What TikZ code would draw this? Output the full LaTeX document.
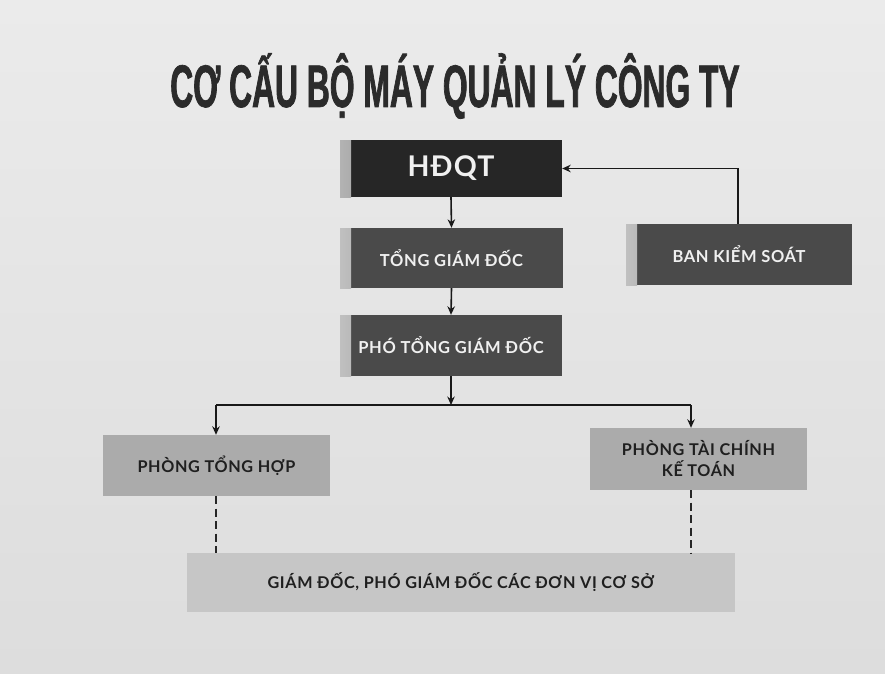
\documentclass[tikz,border=0pt]{standalone}
\usepackage{fontspec}
\setmainfont{Lato}
\newfontfamily\titlefont[FakeStretch=0.53, FakeBold=1.2]{Liberation Sans Bold}
\newfontfamily\boxfont[LetterSpace=4]{Lato Bold}
\usetikzlibrary{arrows.meta}
\definecolor{bgA}{HTML}{EBEBEB}
\definecolor{bgB}{HTML}{DDDDDD}
\definecolor{darkA}{HTML}{262626}
\definecolor{darkB}{HTML}{4A4A4A}
\definecolor{lightbox}{HTML}{ABABAB}
\definecolor{palebox}{HTML}{C6C6C6}
\definecolor{titlecol}{HTML}{2B2B2B}
\tikzset{
  boxbase/.style={rectangle, inner sep=0pt, align=center},
  strip/.style={path picture={\fill[left color=#1!35!white, right color=#1] (path picture bounding box.south west) rectangle ([xshift=11pt]path picture bounding box.north west);}},
  darkbox/.style={boxbase, fill=#1, strip=#1, text=white!94!black, font=\boxfont\fontsize{16.5}{19}\selectfont},
  lightnode/.style={boxbase, fill=#1, text=black!88, font=\boxfont\fontsize{16.2}{21}\selectfont},
  arr/.style={-{Stealth[length=8.5pt,width=7.5pt]}, line width=1.6pt, black!90},
  plain/.style={line width=1.6pt, black!90},
  dashline/.style={line width=2.8pt, black!85, dash pattern=on 8pt off 4.5pt}
}
\begin{document}
\begin{tikzpicture}[x=1pt,y=-1pt]
\useasboundingbox (0,0) rectangle (885,673);
\shade[top color=bgA, bottom color=bgB] (0,0) rectangle (885,673);
\node[font=\titlefont\fontsize{60}{60}\selectfont, text=titlecol] (title) at (455,86) {CƠ CẤU BỘ MÁY QUẢN LÝ CÔNG TY};
\node[darkbox=darkA, minimum width=222pt, minimum height=57pt, font=\boxfont\fontsize{28.5}{32}\selectfont] (hdqt) at (451,168.5) {HĐQT};
\node[darkbox=darkB, minimum width=223pt, minimum height=60pt] (tgd) at (451.5,258) {TỔNG GIÁM ĐỐC};
\node[darkbox=darkB, minimum width=226pt, minimum height=61pt] (bks) at (739,254.5) {BAN KIỂM SOÁT};
\node[darkbox=darkB, minimum width=222pt, minimum height=61pt] (ptgd) at (451,345.5) {PHÓ TỔNG GIÁM ĐỐC};
\node[lightnode=lightbox, minimum width=227pt, minimum height=61pt] (pth) at (216.5,465.5) {PHÒNG TỔNG HỢP};
\node[lightnode=lightbox, minimum width=217pt, minimum height=62pt] (ptckt) at (698.5,459) {PHÒNG TÀI CHÍNH\\KẾ TOÁN};
\node[lightnode=palebox, minimum width=548pt, minimum height=59pt] (coso) at (461,582.5) {GIÁM ĐỐC, PHÓ GIÁM ĐỐC CÁC ĐƠN VỊ CƠ SỞ};
\coordinate (split) at (451,405);
\coordinate (splitL) at (216,405);
\coordinate (splitR) at (691,405);
\coordinate (bksturn) at (738,168.5);
\draw[arr] (hdqt.south) -- (tgd.north);
\draw[arr] (tgd.south) -- (ptgd.north);
\draw[arr] (ptgd.south) -- (split);
\draw[plain] (splitL) -- (splitR);
\draw[arr] (splitL) -- (splitL |- pth.north);
\draw[arr] (splitR) -- (splitR |- ptckt.north);
\draw[arr] (bks.north -| bksturn) -- (bksturn) -- (hdqt.east);
\draw[dashline] (splitL |- pth.south) -- (splitL |- coso.north);
\draw[dashline] (splitR |- ptckt.south) -- (splitR |- coso.north);
\end{tikzpicture}
\end{document}
